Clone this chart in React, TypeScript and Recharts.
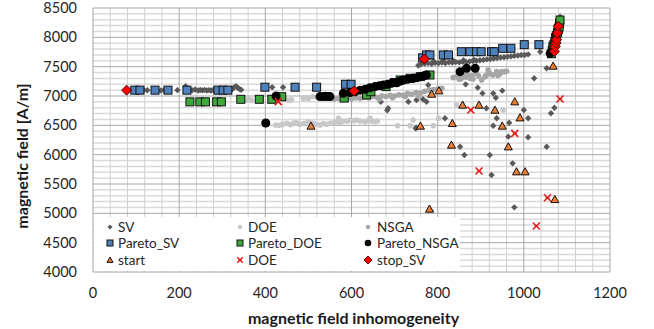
import React from 'react';
import { ScatterChart, Scatter, XAxis, YAxis, ReferenceLine, Legend, Label } from 'recharts';

type P = [number, number];

const xTicks = [0, 200, 400, 600, 800, 1000, 1200];
const yTicks = [4000, 4500, 5000, 5500, 6000, 6500, 7000, 7500, 8000, 8500];
const xTitle = 'magnetic field inhomogeneity';
const yTitle = 'magnetic field [A/m]';

const svPts: P[] = [
  [100, 7095], [118, 7100], [126, 7098], [158, 7095], [166, 7102], [196, 7100], [215, 7165], [230, 7098],
  [237, 7112], [244, 7095], [249, 7102], [254, 7096], [259, 7104], [264, 7095], [269, 7100], [274, 7094],
  [279, 7102], [284, 7097], [306, 7098], [322, 7105], [328, 7150], [332, 7165], [336, 7140], [340, 7120],
  [344, 7105], [416, 7148], [441, 7148],
  [755, 7520], [762, 7545], [770, 7555], [778, 7560], [786, 7550], [794, 7565], [802, 7560], [810, 7570],
  [818, 7560], [826, 7575], [834, 7570], [842, 7580], [850, 7575], [858, 7585], [866, 7580], [874, 7590],
  [882, 7595], [890, 7600], [898, 7610], [906, 7615], [914, 7625], [922, 7630], [930, 7640], [938, 7645],
  [946, 7655], [954, 7660], [962, 7670], [970, 7675], [978, 7685], [986, 7690], [994, 7700], [1002, 7700],
  [1010, 7710], [768, 7590], [790, 7595], [812, 7600], [836, 7600], [860, 7610], [884, 7620],
  [668, 6903], [685, 6790], [683, 6756], [732, 6903], [751, 6932], [774, 6903], [778, 7188], [750, 6460],
  [766, 6944], [817, 6620], [852, 6136], [862, 5994], [865, 7199], [893, 7142], [904, 7045], [913, 6790],
  [921, 5994], [929, 7045], [935, 6971], [929, 6494], [950, 7091], [937, 6620], [966, 6545], [964, 6307],
  [974, 5852], [1000, 6761], [1010, 6620], [1010, 6296], [1024, 7302], [1038, 7755], [1053, 7472],
  [1053, 6136], [1063, 6705], [1071, 6800], [1084, 8352], [925, 5654], [978, 5102], [749, 6448],
];

const doePts: P[] = [
  [355, 6930], [362, 6940], [368, 6925], [447, 6940], [455, 6925], [461, 6935], [488, 6960], [495, 6975],
  [500, 6955], [510, 6990], [520, 6975], [527, 6995],
  [424, 6506], [432, 6500], [440, 6520], [450, 6534], [458, 6510], [466, 6540], [472, 6545], [480, 6520],
  [490, 6530], [500, 6562], [508, 6540], [516, 6520], [527, 6506], [535, 6530], [542, 6515], [550, 6534],
  [558, 6545], [566, 6560], [573, 6545], [580, 6570], [590, 6575], [597, 6591], [605, 6580], [612, 6591],
  [620, 6575], [631, 6562], [640, 6580], [648, 6570], [655, 6562], [660, 6575], [570, 6620], [643, 6620],
  [707, 6494], [736, 6494], [743, 6591], [802, 6620], [844, 6847], [952, 6761], [790, 6495], [785, 5040],
];

const nsgaPts: P[] = [
  [560, 6950], [570, 6960], [580, 6945], [590, 6965], [600, 6955], [610, 6970], [620, 6960], [630, 6980],
  [640, 6970], [650, 6990], [660, 6975], [670, 7000], [680, 6990], [690, 7010], [700, 7000], [710, 7020],
  [720, 7010], [730, 7040], [740, 7030], [750, 7060], [760, 7050], [770, 7080], [780, 7100], [790, 7110],
  [800, 7120], [810, 7130], [665, 6950], [695, 6970], [725, 6990], [755, 7000],
  [836, 7313], [845, 7330], [855, 7300], [865, 7320], [875, 7302], [880, 7350], [890, 7387], [895, 7340],
  [902, 7273], [910, 7330], [913, 7358], [920, 7390], [928, 7360], [937, 7415], [945, 7380], [949, 7415],
  [956, 7415], [917, 7443], [882, 7290], [870, 7360], [860, 7345], [850, 7285], [940, 7350], [960, 7420],
];

const paretoSvPts: P[] = [
  [97, 7100], [109, 7100], [144, 7100], [174, 7100], [218, 7100], [290, 7100], [302, 7100], [313, 7100],
  [399, 7150], [469, 7150], [519, 7150], [586, 7200], [599, 7200], [765, 7650], [774, 7700], [782, 7700],
  [813, 7700], [825, 7700], [855, 7755], [875, 7755], [890, 7755], [901, 7755], [925, 7755], [931, 7755],
  [951, 7813], [970, 7813], [1001, 7875], [1035, 7875], [1068, 7850], [1074, 8000], [1080, 8150],
];

const paretoDoePts: P[] = [
  [225, 6900], [248, 6900], [261, 6900], [287, 6900], [298, 6900], [343, 6944], [386, 6944], [415, 6944],
  [438, 6988], [583, 6965], [635, 7017], [645, 7073], [680, 7160], [700, 7230], [713, 7273], [736, 7302],
  [760, 7330], [782, 7358], [1064, 7720], [1066, 7780], [1068, 7830], [1070, 7880], [1072, 7930],
  [1074, 7980], [1076, 8030], [1078, 8080], [1080, 8130], [1082, 8180], [1083, 8240], [1084, 8295],
];

const paretoNsgaPts: P[] = [
  [401, 6540], [425, 7000], [527, 6990], [535, 6990], [539, 6995], [546, 6990], [550, 6990], [581, 7045],
  [597, 7060], [608, 7073], [620, 7100], [632, 7115], [643, 7140], [655, 7160], [665, 7175], [674, 7188],
  [684, 7200], [693, 7216], [705, 7225], [712, 7250], [720, 7273], [730, 7285], [743, 7302], [751, 7310],
  [759, 7330], [768, 7345], [774, 7358], [852, 7415], [867, 7472], [887, 7472], [1061, 7727],
];

const startPts: P[] = [
  [506, 6489], [760, 6489], [786, 7034], [803, 7091], [834, 6534], [858, 6847], [896, 6847], [933, 6761],
  [950, 6489], [979, 6903], [991, 6630], [832, 6165], [964, 6136], [1068, 7511], [983, 5710], [1003, 5710],
  [1072, 5238], [781, 5074],
];

const doeXPts: P[] = [
  [430, 6903], [877, 6761], [979, 6364], [1084, 6949], [896, 5722], [1055, 5265], [1029, 4784],
];

const stopSvPts: P[] = [
  [78, 7100], [606, 7085], [769, 7631], [1071, 7762], [1073, 7840], [1075, 7903], [1076, 7960],
  [1078, 8074], [1080, 8188],
];

const toData = (pts: P[]) => pts.map(([x, y]) => ({ x, y }));

const C = {
  sv: '#595959',
  doe: '#c8c8c8',
  nsga: '#a6a6a6',
  pSv: '#4F81BD',
  pDoe: '#3FA83A',
  pNsga: '#000000',
  start: '#ED7D31',
  doeX: '#E0201C',
  stop: '#FF0000',
};

const diamond = (cx: number, cy: number, r: number, fill: string, stroke?: string) => (
  <path d={`M${cx},${cy - r}L${cx + r},${cy}L${cx},${cy + r}L${cx - r},${cy}Z`} fill={fill}
    stroke={stroke || 'none'} strokeWidth={stroke ? 1 : 0} />
);
const square = (cx: number, cy: number, h: number, fill: string) => (
  <rect x={cx - h} y={cy - h} width={2 * h} height={2 * h} fill={fill} stroke="#111" strokeWidth={1} />
);
const circle = (cx: number, cy: number, r: number, fill: string) => <circle cx={cx} cy={cy} r={r} fill={fill} />;
const triangle = (cx: number, cy: number, r: number, fill: string) => (
  <path d={`M${cx},${cy - r}L${cx + r},${cy + r * 0.8}L${cx - r},${cy + r * 0.8}Z`} fill={fill} stroke="#111" strokeWidth={1} />
);
const cross = (cx: number, cy: number, r: number, color: string) => (
  <g stroke={color} strokeWidth={1.6}>
    <line x1={cx - r} y1={cy - r} x2={cx + r} y2={cy + r} />
    <line x1={cx - r} y1={cy + r} x2={cx + r} y2={cy - r} />
    <line x1={cx - r * 0.6} y1={cy} x2={cx + r * 0.6} y2={cy} strokeWidth={1} />
  </g>
);

const shapes = {
  sv: (p: any) => diamond(p.cx, p.cy, 3.2, C.sv),
  doe: (p: any) => circle(p.cx, p.cy, 2.8, C.doe),
  nsga: (p: any) => circle(p.cx, p.cy, 2.8, C.nsga),
  pSv: (p: any) => square(p.cx, p.cy, 4, C.pSv),
  pDoe: (p: any) => square(p.cx, p.cy, 4, C.pDoe),
  pNsga: (p: any) => circle(p.cx, p.cy, 4.5, C.pNsga),
  start: (p: any) => triangle(p.cx, p.cy, 4, C.start),
  doeX: (p: any) => cross(p.cx, p.cy, 3.5, C.doeX),
  stop: (p: any) => diamond(p.cx, p.cy, 5, C.stop, '#600000'),
};

const legendItems = [
  { name: 'SV', key: 'sv' }, { name: 'DOE', key: 'doe' }, { name: 'NSGA', key: 'nsga' },
  { name: 'Pareto_SV', key: 'pSv' }, { name: 'Pareto_DOE', key: 'pDoe' }, { name: 'Pareto_NSGA', key: 'pNsga' },
  { name: 'start', key: 'start' }, { name: 'DOE', key: 'doeX' }, { name: 'stop_SV', key: 'stop' },
];

const legendMarker = (key: string, cx: number, cy: number) => {
  switch (key) {
    case 'sv': return diamond(cx, cy, 2.5, C.sv);
    case 'doe': return circle(cx, cy, 2.2, C.doe);
    case 'nsga': return circle(cx, cy, 2.2, C.nsga);
    case 'pSv': return square(cx, cy, 3, C.pSv);
    case 'pDoe': return square(cx, cy, 3, C.pDoe);
    case 'pNsga': return circle(cx, cy, 3.3, C.pNsga);
    case 'start': return triangle(cx, cy, 3, C.start);
    case 'doeX': return cross(cx, cy, 2.8, C.doeX);
    default: return diamond(cx, cy, 4, C.stop, '#600000');
  }
};

const LegendBox = () => {
  const colM = [16, 146, 274];
  const colT = [24, 154, 283];
  const rowY = [10, 26, 43];
  return (
    <svg width={366} height={54} style={{ display: 'block' }}>
      <rect x={0} y={0} width={366} height={54} fill="#fff" />
      {legendItems.map((it, i) => {
        const c = i % 3, r = Math.floor(i / 3);
        return (
          <g key={i}>
            {legendMarker(it.key, colM[c], rowY[r])}
            <text x={colT[c]} y={rowY[r]} dominantBaseline="central" fontFamily="Lato" fontSize={13.5} fill="#262626">{it.name}</text>
          </g>
        );
      })}
    </svg>
  );
};

const minorX: number[] = [];
for (let v = 40; v < 1200; v += 40) if (v % 200 !== 0) minorX.push(v);
const minorY: number[] = [];
for (let v = 4100; v < 8500; v += 100) if (v % 500 !== 0) minorY.push(v);

export default function App() {
  const tickStyle = { fontFamily: 'Lato', fontSize: 14.5, fill: '#262626' };
  return (
    <div style={{ position: 'absolute', left: 0, top: 0, width: 654, height: 329, background: '#fff' }}>
      <ScatterChart width={654} height={329} margin={{ top: 8, right: 44, bottom: 0, left: 0 }}>
        <XAxis type="number" dataKey="x" domain={[0, 1200]} ticks={xTicks} height={57} tickLine={false}
          axisLine={false} tickSize={8} tickMargin={8} tick={tickStyle} interval={0}>
          <Label content={({ viewBox }: any) => (
            <text x={viewBox.x + viewBox.width / 2 + 2} y={317} textAnchor="middle" dominantBaseline="central"
              fontFamily="Lato" fontWeight="bold" fontSize={16} fill="#1a1a1a">{xTitle}</text>
          )} />
        </XAxis>
        <YAxis type="number" dataKey="y" domain={[4000, 8500]} ticks={yTicks} width={93} tickLine={false}
          axisLine={false} tickSize={8} tickMargin={8} tick={tickStyle} interval={0}>
          <Label content={({ viewBox }: any) => {
            const cy = viewBox.y + viewBox.height / 2 + 16;
            return (
              <text x={21} y={cy} transform={`rotate(-90, 21, ${cy})`} textAnchor="middle" dominantBaseline="central"
                fontFamily="Lato" fontWeight="bold" fontSize={16} fill="#1a1a1a">{yTitle}</text>
            );
          }} />
        </YAxis>
        {minorY.map((v) => <ReferenceLine key={'my' + v} y={v} stroke="#dadada" strokeWidth={1.5} />)}
        {minorX.map((v) => <ReferenceLine key={'mx' + v} x={v} stroke="#cfcfcf" strokeWidth={1} />)}
        {yTicks.map((v) => <ReferenceLine key={'Y' + v} y={v} stroke="#a6a6a6" strokeWidth={1} />)}
        {xTicks.map((v) => <ReferenceLine key={'X' + v} x={v} stroke="#a6a6a6" strokeWidth={1} />)}
        <Scatter name="SV" data={toData(svPts)} shape={shapes.sv} isAnimationActive={false} />
        <Scatter name="DOE" data={toData(doePts)} shape={shapes.doe} isAnimationActive={false} />
        <Scatter name="NSGA" data={toData(nsgaPts)} shape={shapes.nsga} isAnimationActive={false} />
        <Scatter name="Pareto_SV" data={toData(paretoSvPts)} shape={shapes.pSv} isAnimationActive={false} />
        <Scatter name="Pareto_DOE" data={toData(paretoDoePts)} shape={shapes.pDoe} isAnimationActive={false} />
        <Scatter name="Pareto_NSGA" data={toData(paretoNsgaPts)} shape={shapes.pNsga} isAnimationActive={false} />
        <Scatter name="start" data={toData(startPts)} shape={shapes.start} isAnimationActive={false} />
        <Scatter name="DOE " data={toData(doeXPts)} shape={shapes.doeX} isAnimationActive={false} />
        <Scatter name="stop_SV" data={toData(stopSvPts)} shape={shapes.stop} isAnimationActive={false} />
        <Legend layout="vertical" align="center" verticalAlign="middle" content={() => <LegendBox />}
          wrapperStyle={{ position: 'absolute', left: 94, top: 217, width: 366, height: 54, margin: 0, padding: 0 }} />
      </ScatterChart>
    </div>
  );
}
